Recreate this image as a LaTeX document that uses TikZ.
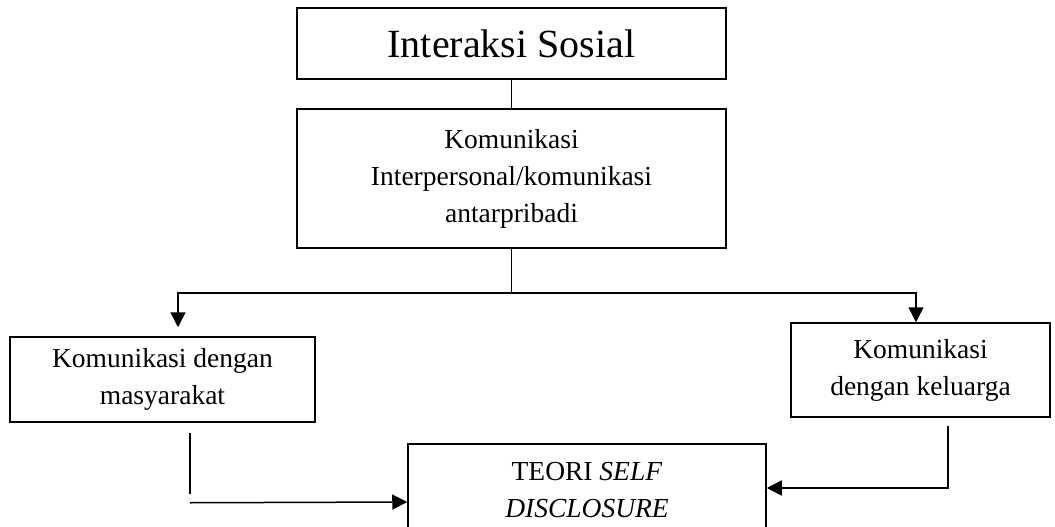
\documentclass[tikz,border=0pt]{standalone}
\usepackage{fontspec}
\setmainfont{Liberation Serif}
\usetikzlibrary{arrows.meta,positioning}
\tikzset{
  blk/.style={draw=black, line width=1.5pt, align=center, inner sep=0pt,
              font=\fontsize{27.5}{37}\selectfont},
  ttl/.style={blk, font=\fontsize{40}{46}\selectfont},
  ln/.style={line width=1.5pt, draw=black},
  arr/.style={ln, -{Triangle[length=15pt,width=15pt]}},
}

\begin{document}
\begin{tikzpicture}[x=1pt,y=-1pt]
  \useasboundingbox (0,0) rectangle (1055,527);
  \clip (0,0) rectangle (1055,527);
  \node[ttl, minimum width=429pt, minimum height=71pt] (soc) at (511.5,43.5) {Interaksi Sosial};
  \node[blk, minimum width=429pt, minimum height=139pt] (ip) at (511.5,178.5) {Komunikasi\\Interpersonal/komunikasi\\antarpribadi};
  \node[blk, minimum width=305pt, minimum height=85pt] (mas) at (162.5,379.5) {Komunikasi dengan\\masyarakat};
  \node[blk, minimum width=259pt, minimum height=94pt] (kel) at (920.5,370) {Komunikasi\\dengan keluarga};
  \node[blk, minimum width=358pt, minimum height=92pt] (sd) at (587,490) {TEORI \textit{SELF}\\\textit{DISCLOSURE}};
  \coordinate (fork) at (511.5,293);
  \draw[ln] (soc) -- (ip);
  \draw[ln] (ip.south) -- (fork);
  \draw[arr] (fork) -| ([xshift=15.5pt,yshift=9pt]mas.north);
  \draw[arr] (fork) -| ([xshift=-4.5pt]kel.north);
  \draw[ln] ([xshift=27.5pt,yshift=-10pt]mas.south) -- ++(0,61);
  \draw[arr] ([xshift=27.5pt,yshift=-80pt]mas.south) -- ([yshift=-12pt]sd.west);
  \draw[arr] ([xshift=27.5pt,yshift=-8pt]kel.south) |- ([yshift=2pt]sd.east);
\end{tikzpicture}
\end{document}
